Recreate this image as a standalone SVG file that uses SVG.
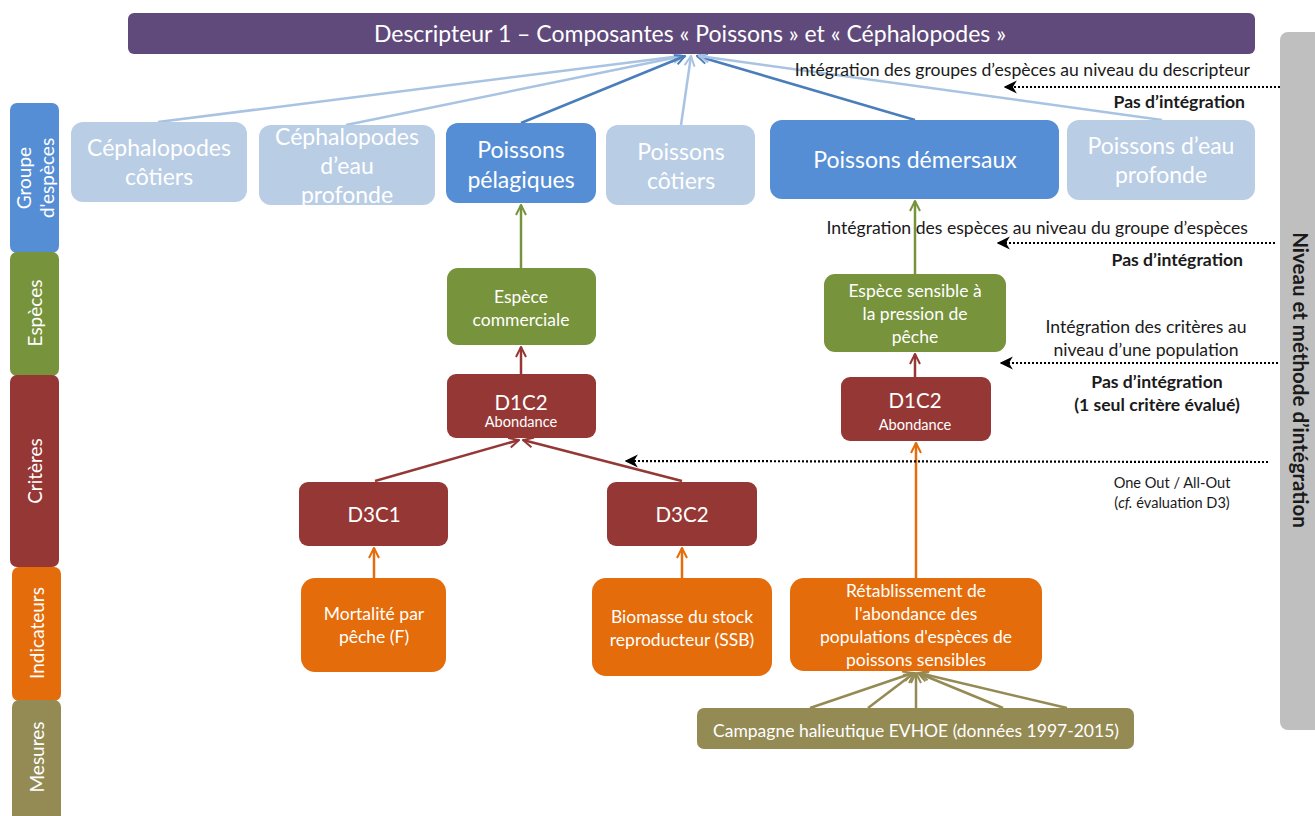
<svg xmlns="http://www.w3.org/2000/svg" width="1315" height="816" viewBox="0 0 1315 816">
<style>
text{font-family:Lato,"Open Sans","Liberation Sans",sans-serif;}
.w{fill:#fff;text-anchor:middle;}
.k{fill:#1a1a1a;}
.b{font-weight:bold;}
.dot{stroke:#000;stroke-width:2.2;stroke-dasharray:2 2;fill:none;}
.lb{stroke:#a9c3e3;stroke-width:2.5;fill:none;}
.db{stroke:#4a7ebb;stroke-width:2.5;fill:none;}
.gr{stroke:#77933c;stroke-width:2.5;fill:none;}
.rd{stroke:#953735;stroke-width:2.5;fill:none;}
.or{stroke:#e46c0a;stroke-width:2.5;fill:none;}
.ol{stroke:#948a54;stroke-width:2.5;fill:none;}
</style>
<defs>
<marker id="mLb" viewBox="0 0 10 10" refX="9" refY="5" markerWidth="5" markerHeight="5" orient="auto" markerUnits="strokeWidth"><path d="M1,1 L9,5 L1,9" fill="none" stroke="#a9c3e3" stroke-width="1.6"/></marker>
<marker id="mDb" viewBox="0 0 10 10" refX="9" refY="5" markerWidth="5" markerHeight="5" orient="auto" markerUnits="strokeWidth"><path d="M1,1 L9,5 L1,9" fill="none" stroke="#4a7ebb" stroke-width="1.6"/></marker>
<marker id="mGr" viewBox="0 0 10 10" refX="9" refY="5" markerWidth="5" markerHeight="5" orient="auto" markerUnits="strokeWidth"><path d="M1,1 L9,5 L1,9" fill="none" stroke="#77933c" stroke-width="1.6"/></marker>
<marker id="mRd" viewBox="0 0 10 10" refX="9" refY="5" markerWidth="5" markerHeight="5" orient="auto" markerUnits="strokeWidth"><path d="M1,1 L9,5 L1,9" fill="none" stroke="#953735" stroke-width="1.6"/></marker>
<marker id="mOr" viewBox="0 0 10 10" refX="9" refY="5" markerWidth="5" markerHeight="5" orient="auto" markerUnits="strokeWidth"><path d="M1,1 L9,5 L1,9" fill="none" stroke="#e46c0a" stroke-width="1.6"/></marker>
<marker id="mOl" viewBox="0 0 10 10" refX="9" refY="5" markerWidth="5" markerHeight="5" orient="auto" markerUnits="strokeWidth"><path d="M1,1 L9,5 L1,9" fill="none" stroke="#948a54" stroke-width="1.6"/></marker>
<marker id="mK" viewBox="0 0 10 10" refX="9" refY="5" markerWidth="6" markerHeight="6" orient="auto" markerUnits="strokeWidth"><path d="M10,5 L0,0 L3,5 L0,10 Z" fill="#000"/></marker>
</defs>

<!-- Left legend column -->
<g id="legend-groupe"><rect x="10" y="103" width="49" height="150" rx="7" fill="#558ed5"/><text class="w" font-size="19" transform="translate(31,178) rotate(-90)">Groupe</text><text class="w" font-size="19" transform="translate(54,178) rotate(-90)">d'espèces</text></g>
<g id="legend-especes"><rect x="10" y="252" width="49" height="124" rx="7" fill="#77933c"/><text class="w" font-size="19" transform="translate(42,313) rotate(-90)">Espèces</text></g>
<g id="legend-criteres"><rect x="10" y="375" width="49" height="192" rx="7" fill="#953735"/><text class="w" font-size="19" transform="translate(42,471) rotate(-90)">Critères</text></g>
<g id="legend-indicateurs"><rect x="12" y="567" width="49" height="134" rx="7" fill="#e46c0a"/><text class="w" font-size="19" transform="translate(44,633) rotate(-90)">Indicateurs</text></g>
<g id="legend-mesures"><rect x="12" y="700" width="49" height="130" rx="7" fill="#948a54"/><text class="w" font-size="19" transform="translate(44,757) rotate(-90)">Mesures</text></g>

<!-- Right gray bar -->
<g id="niveau"><rect x="1280" y="32" width="50" height="698" rx="8" fill="#bfbfbf"/><text class="b k" font-size="20.5" text-anchor="middle" transform="translate(1293,380) rotate(90)">Niveau et méthode d’intégration</text></g>

<!-- Connectors -->
<g id="connectors">
<line class="lb" x1="158" y1="122" x2="681" y2="56" marker-end="url(#mLb)"/>
<line class="lb" x1="346" y1="125" x2="683" y2="56" marker-end="url(#mLb)"/>
<line class="db" x1="521" y1="123" x2="685" y2="56" marker-end="url(#mDb)"/>
<line class="lb" x1="681" y1="125" x2="691" y2="56" marker-end="url(#mLb)"/>
<line class="db" x1="915" y1="120" x2="697" y2="56" marker-end="url(#mDb)"/>
<line class="lb" x1="1162" y1="120" x2="699" y2="56" marker-end="url(#mLb)"/>

<line class="gr" x1="521" y1="268" x2="521" y2="205" marker-end="url(#mGr)"/>
<line class="gr" x1="915" y1="274" x2="915" y2="201" marker-end="url(#mGr)"/>
<line class="rd" x1="521" y1="374" x2="521" y2="347" marker-end="url(#mRd)"/>
<line class="rd" x1="915" y1="377" x2="915" y2="354" marker-end="url(#mRd)"/>
<line class="rd" x1="375" y1="481" x2="519" y2="440" marker-end="url(#mRd)"/>
<line class="rd" x1="682" y1="481" x2="523" y2="440" marker-end="url(#mRd)"/>
<line class="or" x1="374" y1="578" x2="374" y2="548" marker-end="url(#mOr)"/>
<line class="or" x1="682" y1="578" x2="682" y2="548" marker-end="url(#mOr)"/>
<line class="or" x1="916" y1="578" x2="916" y2="443" marker-end="url(#mOr)"/>
<line class="ol" x1="810" y1="708" x2="913" y2="673" marker-end="url(#mOl)"/>
<line class="ol" x1="868" y1="708" x2="914" y2="673" marker-end="url(#mOl)"/>
<line class="ol" x1="916" y1="708" x2="916" y2="673" marker-end="url(#mOl)"/>
<line class="ol" x1="1003" y1="708" x2="918" y2="673" marker-end="url(#mOl)"/>
<line class="ol" x1="1067" y1="708" x2="919" y2="673" marker-end="url(#mOl)"/>

<line class="dot" x1="1280" y1="87" x2="1005" y2="87" marker-end="url(#mK)"/>
<line class="dot" x1="1275" y1="243" x2="998" y2="243" marker-end="url(#mK)"/>
<line class="dot" x1="1278" y1="363" x2="1001" y2="363" marker-end="url(#mK)"/>
<line class="dot" x1="1268" y1="462" x2="626" y2="461" marker-end="url(#mK)"/>
</g>

<!-- Integration labels -->
<g id="labels">
<text class="k" font-size="17.6" text-anchor="end" x="1250" y="76">Intégration des groupes d’espèces au niveau du descripteur</text>
<text class="k b" font-size="17.6" text-anchor="end" x="1245" y="108">Pas d’intégration</text>
<text class="k" font-size="17.6" text-anchor="end" x="1248" y="234">Intégration des espèces au niveau du groupe d’espèces</text>
<text class="k b" font-size="17.6" text-anchor="end" x="1243" y="266">Pas d’intégration</text>
<text class="k" font-size="17.6" text-anchor="middle" x="1146" y="333">Intégration des critères au</text>
<text class="k" font-size="17.6" text-anchor="middle" x="1146" y="356">niveau d’une population</text>
<text class="k b" font-size="17.6" text-anchor="middle" x="1157" y="388">Pas d’intégration</text>
<text class="k b" font-size="17.6" text-anchor="middle" x="1157" y="411">(1 seul critère évalué)</text>
<text class="k" font-size="14.6" text-anchor="middle" x="1172" y="488">One Out / All-Out</text>
<text class="k" font-size="14.6" text-anchor="middle" x="1172" y="508">(<tspan font-style="italic">cf.</tspan> évaluation D3)</text>
</g>

<!-- Title -->
<g id="descripteur"><rect x="128" y="13" width="1127" height="41" rx="6" fill="#604a7b"/><text class="w" font-size="23" x="690" y="42">Descripteur 1 – Composantes « Poissons » et « Céphalopodes »</text></g>

<!-- Groups -->
<g id="ceph-cotiers"><rect x="71" y="122" width="176" height="80" rx="12" fill="#b9cde5"/><text class="w" font-size="23" x="159" y="156">Céphalopodes</text><text class="w" font-size="23" x="159" y="185">côtiers</text></g>
<g id="ceph-profonde"><rect x="259" y="125" width="176" height="80" rx="12" fill="#b9cde5"/><text class="w" font-size="23" x="347" y="145">Céphalopodes</text><text class="w" font-size="23" x="347" y="174">d’eau</text><text class="w" font-size="23" x="347" y="203">profonde</text></g>
<g id="poissons-pelagiques"><rect x="446" y="123" width="150" height="80" rx="12" fill="#558ed5"/><text class="w" font-size="23" x="521" y="158">Poissons</text><text class="w" font-size="23" x="521" y="188">pélagiques</text></g>
<g id="poissons-cotiers"><rect x="606" y="125" width="149" height="80" rx="12" fill="#b9cde5"/><text class="w" font-size="23" x="681" y="160">Poissons</text><text class="w" font-size="23" x="681" y="189">côtiers</text></g>
<g id="poissons-demersaux"><rect x="770" y="120" width="289" height="79" rx="12" fill="#558ed5"/><text class="w" font-size="23" x="915" y="168">Poissons démersaux</text></g>
<g id="poissons-profonde"><rect x="1067" y="120" width="188" height="80" rx="12" fill="#b9cde5"/><text class="w" font-size="23" x="1161" y="154">Poissons d’eau</text><text class="w" font-size="23" x="1161" y="183">profonde</text></g>

<!-- Species -->
<g id="espece-commerciale"><rect x="447" y="268" width="149" height="77" rx="11" fill="#77933c"/><text class="w" font-size="17.5" x="521" y="303">Espèce</text><text class="w" font-size="17.5" x="521" y="326">commerciale</text></g>
<g id="espece-sensible"><rect x="824" y="274" width="182" height="78" rx="11" fill="#77933c"/><text class="w" font-size="17.5" x="915" y="297">Espèce sensible à</text><text class="w" font-size="17.5" x="915" y="320">la pression de</text><text class="w" font-size="17.5" x="915" y="343">pêche</text></g>

<!-- Criteria -->
<g id="d1c2-left"><rect x="447" y="374" width="149" height="64" rx="9" fill="#953735"/><text class="w" font-size="20.5" x="521" y="410">D1C2</text><text class="w" font-size="14.6" x="521" y="427">Abondance</text></g>
<g id="d1c2-right"><rect x="841" y="377" width="150" height="64" rx="9" fill="#953735"/><text class="w" font-size="20.5" x="915" y="408">D1C2</text><text class="w" font-size="14.6" x="915" y="430">Abondance</text></g>
<g id="d3c1"><rect x="299" y="482" width="149" height="64" rx="9" fill="#953735"/><text class="w" font-size="20.5" x="374" y="522">D3C1</text></g>
<g id="d3c2"><rect x="607" y="482" width="150" height="64" rx="9" fill="#953735"/><text class="w" font-size="20.5" x="682" y="522">D3C2</text></g>

<!-- Indicators -->
<g id="mortalite"><rect x="301" y="578" width="145" height="94" rx="14" fill="#e46c0a"/><text class="w" font-size="17.5" x="374" y="620">Mortalité par</text><text class="w" font-size="17.5" x="374" y="643">pêche (F)</text></g>
<g id="biomasse"><rect x="592" y="578" width="180" height="98" rx="14" fill="#e46c0a"/><text class="w" font-size="17.5" x="682" y="623">Biomasse du stock</text><text class="w" font-size="17.5" x="682" y="646">reproducteur (SSB)</text></g>
<g id="retablissement"><rect x="790" y="578" width="252" height="93" rx="14" fill="#e46c0a"/><text class="w" font-size="17.5" x="916" y="597">Rétablissement de</text><text class="w" font-size="17.5" x="916" y="620">l'abondance des</text><text class="w" font-size="17.5" x="916" y="643">populations d'espèces de</text><text class="w" font-size="17.5" x="916" y="666">poissons sensibles</text></g>

<!-- Measures -->
<g id="campagne"><rect x="697" y="708" width="437" height="41" rx="7" fill="#948a54"/><text class="w" font-size="17.5" x="916" y="737">Campagne halieutique EVHOE (données 1997-2015)</text></g>
</svg>
